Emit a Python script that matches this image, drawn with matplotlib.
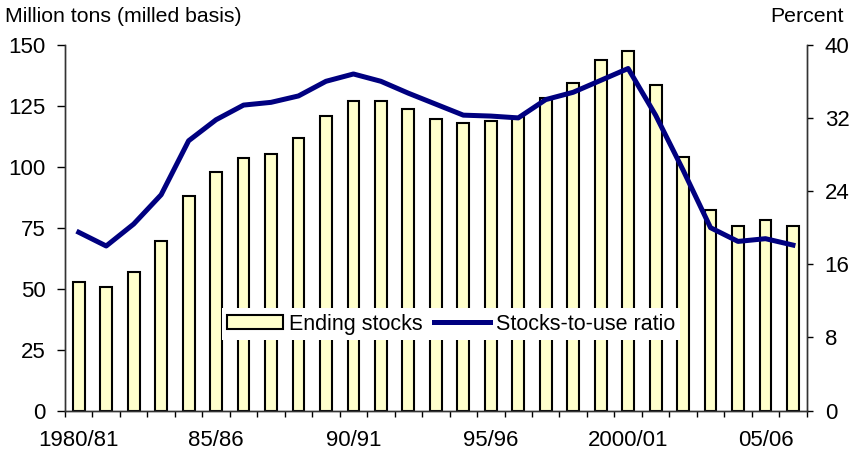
import numpy as np
import matplotlib.pyplot as plt

plt.rcParams['font.family'] = ['Liberation Sans', 'DejaVu Sans']

# World rice ending stocks and stocks-to-use ratio, 1980/81-2006/07
years = ["1980/81", "81/82", "82/83", "83/84", "84/85", "85/86", "86/87", "87/88",
         "88/89", "89/90", "90/91", "91/92", "92/93", "93/94", "94/95", "95/96",
         "96/97", "97/98", "98/99", "99/00", "2000/01", "01/02", "02/03", "03/04",
         "04/05", "05/06", "06/07"]
ending_stocks = [52.6, 50.7, 56.8, 69.4, 88.0, 97.7, 103.4, 105.3, 111.9, 120.6,
                 126.9, 127.0, 123.5, 119.4, 118.0, 118.9, 120.5, 128.0, 134.4,
                 143.7, 147.4, 133.6, 103.8, 82.1, 75.6, 78.3, 75.8]
stocks_to_use = [19.5, 18.0, 20.4, 23.6, 29.5, 31.8, 33.4, 33.7, 34.4, 36.0,
                 36.8, 36.0, 34.7, 33.5, 32.3, 32.2, 32.0, 34.0, 34.8, 36.1,
                 37.4, 32.3, 26.3, 20.0, 18.5, 18.8, 18.1]
shown_labels = ["1980/81", "85/86", "90/91", "95/96", "2000/01", "05/06"]

x = np.arange(len(years))

fig = plt.figure(figsize=(8.53, 4.58), dpi=100)
ax = fig.add_axes([0.0762, 0.1033, 0.8695, 0.7991])
ax2 = ax.twinx()

bars = ax.bar(x, ending_stocks, width=0.43, color="#FFFFCC", edgecolor="black",
              linewidth=1.5, label="Ending stocks", zorder=2)
line, = ax2.plot(x, stocks_to_use, color="#000080", linewidth=3.6,
                 label="Stocks-to-use ratio", zorder=3)

ax.set_xlim(-0.5, len(years) - 0.5)
ax.set_ylim(0, 150)
ax.set_yticks(np.arange(0, 151, 25))
ax2.set_ylim(0, 40)
ax2.set_yticks(np.arange(0, 41, 8))

# ticks between categories, labels every fifth year
ax.set_xticks(np.arange(-0.5, len(years), 1.0))
ax.set_xticklabels([])
ax.set_xticks(x[::5], minor=True)
ax.set_xticklabels(shown_labels, minor=True)
ax.tick_params(axis="x", which="major", length=4.5, width=1, direction="out")
ax.tick_params(axis="x", which="minor", length=0, labelsize=16, pad=14)
ax.tick_params(axis="y", length=5.5, width=1, labelsize=16, pad=8.5)
ax2.tick_params(axis="y", length=4, width=1, labelsize=16, pad=9)

for a in (ax, ax2):
    a.spines["top"].set_visible(False)
    for s in ("left", "right", "bottom"):
        a.spines[s].set_linewidth(1)
        a.spines[s].set_color("#333333")

fig.text(0.006, 0.963, "Million tons (milled basis)", fontsize=15.3, va="center")
fig.text(0.9895, 0.963, "Percent", fontsize=15.3, va="center", ha="right")

ax2.set_zorder(ax.get_zorder() + 1)
ax2.patch.set_visible(False)
leg = ax2.legend([bars, line], ["Ending stocks", "Stocks-to-use ratio"], ncol=2,
                 loc="lower left", bbox_to_anchor=(0.2117, 0.193), frameon=True,
                 fontsize=15.5, handlelength=2.6, handleheight=0.65,
                 handletextpad=0.25, columnspacing=0.55, borderpad=0.25,
                 borderaxespad=0, fancybox=False, framealpha=1)
leg.get_frame().set_edgecolor("white")
leg.get_frame().set_linewidth(0)

fig.savefig("out.png", dpi=100)
